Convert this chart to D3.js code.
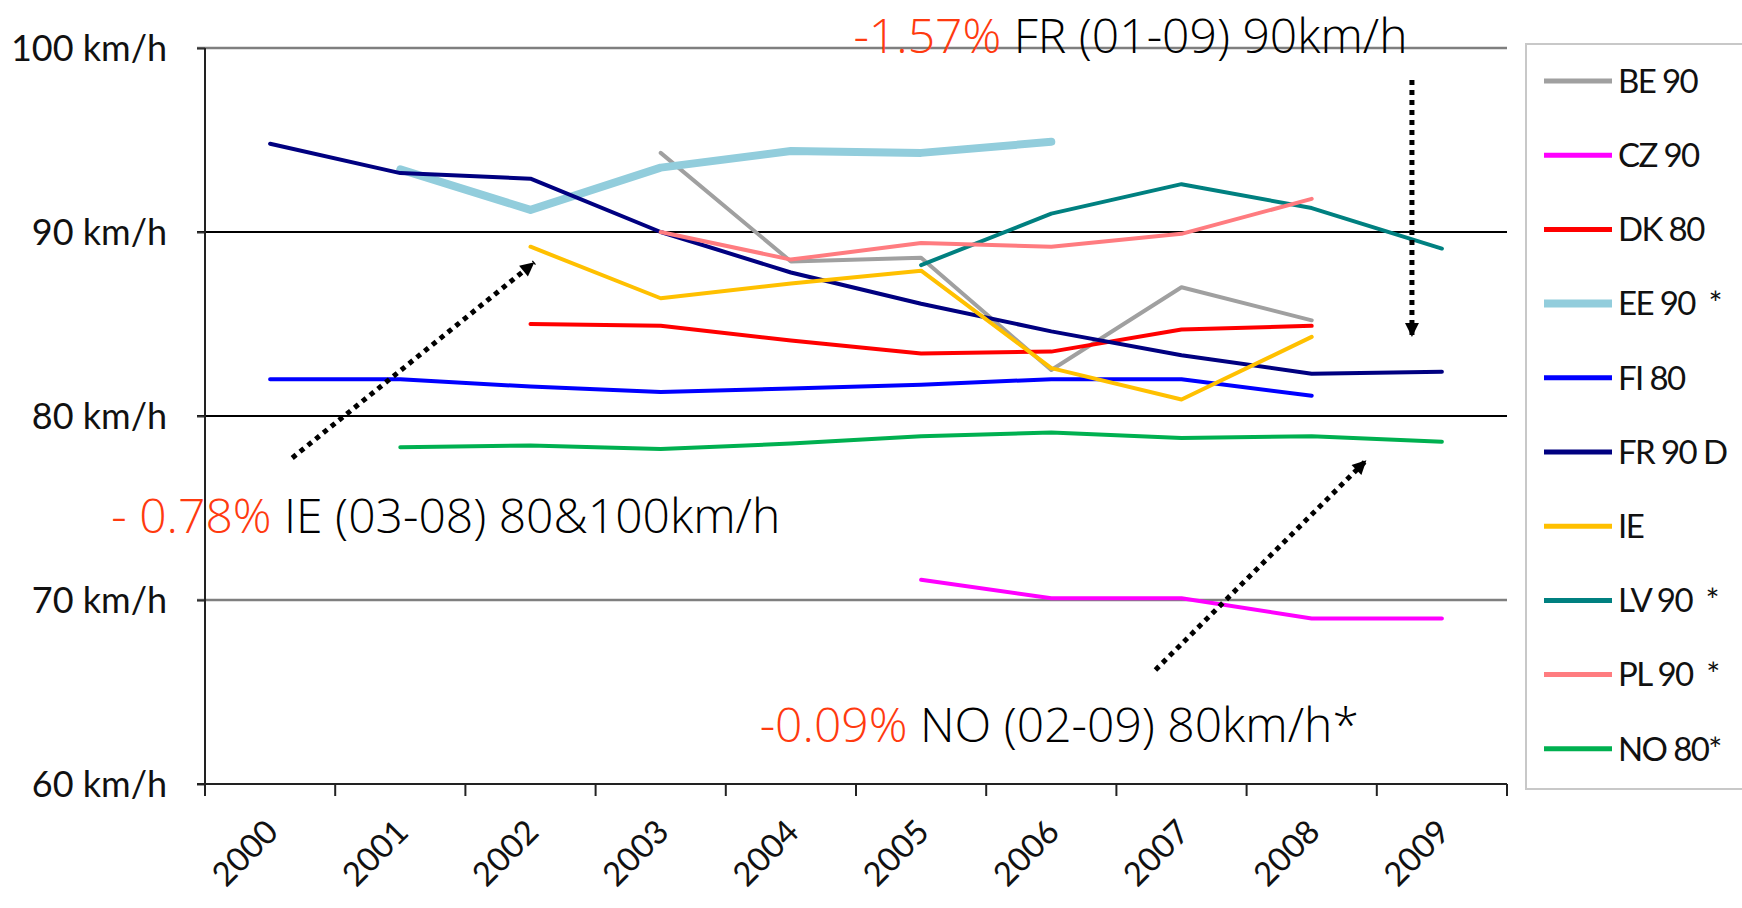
<!DOCTYPE html>
<html>
<head>
<meta charset="utf-8">
<script src="https://cdn.jsdelivr.net/npm/d3@7"></script>
<style>
  body { margin: 0; background: #fff; }
  svg { display: block; }
  .lab { font-family: Lato, "Open Sans", sans-serif; fill: #111; }
  .note { font-family: "Open Sans", Lato, sans-serif; font-weight: 300; }
</style>
</head>
<body>
<script>
// data
var years = [2000, 2001, 2002, 2003, 2004, 2005, 2006, 2007, 2008, 2009];
var yTicks = [60, 70, 80, 90, 100];

var seriesNames = ["BE 90", "CZ 90", "DK 80", "EE 90  *", "FI 80", "FR 90 D", "IE", "LV 90  *", "PL 90  *", "NO 80*"];
var seriesColors = ["#a0a0a0", "#ff00ff", "#ff0000", "#92cddc", "#0000ff", "#000080", "#ffc000", "#008080", "#ff7c80", "#00b050"];

// null = no measurement that year
var BE = [null, null, null, 94.3, 88.4, 88.6, 82.5, 87.0, 85.2, null];
var CZ = [null, null, null, null, null, 71.1, 70.1, 70.1, 69.0, 69.0];
var DK = [null, null, 85.0, 84.9, 84.1, 83.4, 83.5, 84.7, 84.9, null];
var EE = [null, 93.4, 91.2, 93.5, 94.4, 94.3, 94.9, null, null, null];
var FI = [82.0, 82.0, 81.6, 81.3, 81.5, 81.7, 82.0, 82.0, 81.1, null];
var FR = [94.8, 93.2, 92.9, 90.0, 87.8, 86.1, 84.6, 83.3, 82.3, 82.4];
var IE = [null, null, 89.2, 86.4, 87.2, 87.9, 82.6, 80.9, 84.3, null];
var LV = [null, null, null, null, null, 88.2, 91.0, 92.6, 91.3, 89.1];
var PL = [null, null, null, 90.0, 88.5, 89.4, 89.2, 89.9, 91.8, null];
var NO = [null, 78.3, 78.4, 78.2, 78.5, 78.9, 79.1, 78.8, 78.9, 78.6];

var seriesValues = [BE, CZ, DK, EE, FI, FR, IE, LV, PL, NO];

// annotations (text start and arrows in year / km/h units)
var notes = [
    { red: "-1.57%", rest: " FR (01-09) 90km/h", x: 2004.48, y: 99.75 },
    { red: "- 0.78%", rest: " IE (03-08) 80&100km/h", x: 1998.78, y: 73.64 },
    { red: "-0.09%", rest: " NO (02-09) 80km/h*", x: 2003.76, y: 62.28 }
];
var arrows = [
    [[2008.77, 98.26], [2008.77, 84.3]],
    [[2000.17, 77.72], [2002.03, 88.35]],
    [[2006.80, 66.2], [2008.42, 77.6]]
];

var W = 1742, H = 908;
var margin = { top: 48, right: 235, bottom: 124, left: 205 };
var width = W - margin.left - margin.right,
    height = H - margin.top - margin.bottom;

var svg = d3.select("body").append("svg")
    .attr("width", W)
    .attr("height", H);

var g = svg.append("g")
    .attr("transform", "translate(" + margin.left + "," + margin.top + ")");

var x = d3.scaleBand().domain(years).range([0, width]);
var xc = d3.scaleLinear().domain([1999.5, 2009.5]).range([0, width]);
var y = d3.scaleLinear().domain([60, 100]).range([height, 0]);

// gridlines + y axis
var yAxis = d3.axisLeft(y)
    .tickValues(yTicks)
    .tickSize(8)
    .tickPadding(30)
    .tickFormat(function (d) { return d + " km/h"; });

g.selectAll(".grid")
    .data(yTicks.filter(function (d) { return d > 60; }))
    .enter().append("line")
    .attr("x1", -8)
    .attr("x2", width)
    .attr("y1", function (d) { return y(d); })
    .attr("y2", function (d) { return y(d); })
    .attr("stroke", function (d) { return (d == 100 || d == 70) ? "#7f7f7f" : "#000"; })
    .attr("stroke-width", function (d) { return (d == 100 || d == 70) ? 2.6 : 2; });

var ya = g.append("g").call(yAxis);
ya.select(".domain").remove();
ya.selectAll("line").attr("stroke", "#333").attr("stroke-width", 2);
ya.selectAll("text")
    .attr("class", "lab")
    .style("font-size", "36px")
    .attr("dy", "0.35em");

g.append("line")
    .attr("x1", 0).attr("x2", 0)
    .attr("y1", 0).attr("y2", height + 10)
    .attr("stroke", "#222").attr("stroke-width", 2);

// x axis
var tickPos = years.map(function (d) { return x(d); }).concat([width]);
g.append("line")
    .attr("x1", -8).attr("x2", width)
    .attr("y1", height).attr("y2", height)
    .attr("stroke", "#222").attr("stroke-width", 2);
g.selectAll(".xtick")
    .data(tickPos)
    .enter().append("line")
    .attr("x1", function (d) { return d; })
    .attr("x2", function (d) { return d; })
    .attr("y1", height).attr("y2", height + 12)
    .attr("stroke", "#222").attr("stroke-width", 2);

g.selectAll(".xlab")
    .data(years)
    .enter().append("text")
    .attr("class", "lab")
    .style("font-size", "33px")
    .attr("text-anchor", "end")
    .attr("transform", function (d) {
        return "translate(" + (x(d) + x.bandwidth() / 2 + 10) + "," + (height + 50) + ") rotate(-45)";
    })
    .text(function (d) { return d; });

// lines
var line = d3.line()
    .defined(function (d) { return d != null; })
    .x(function (d, i) { return x(years[i]) + x.bandwidth() / 2; })
    .y(function (d) { return y(d); });

g.selectAll(".series")
    .data(seriesValues)
    .enter().append("path")
    .attr("fill", "none")
    .attr("stroke", function (d, i) { return seriesColors[i]; })
    .attr("stroke-width", function (d, i) { return i == 3 ? 8 : 4; })
    .attr("stroke-linejoin", "round")
    .attr("stroke-linecap", "round")
    .attr("d", line);

// arrows
svg.append("defs").append("marker")
    .attr("id", "head")
    .attr("viewBox", "0 0 10 10")
    .attr("refX", 10).attr("refY", 5)
    .attr("markerWidth", 16).attr("markerHeight", 14)
    .attr("markerUnits", "userSpaceOnUse")
    .attr("orient", "auto")
    .append("path")
    .attr("d", "M0,0 L10,5 L0,10 Z")
    .attr("fill", "#000");

g.selectAll(".arrow")
    .data(arrows)
    .enter().append("line")
    .attr("x1", function (d) { return xc(d[0][0]); })
    .attr("y1", function (d) { return y(d[0][1]); })
    .attr("x2", function (d) { return xc(d[1][0]); })
    .attr("y2", function (d) { return y(d[1][1]); })
    .attr("stroke", "#000")
    .attr("stroke-width", 5)
    .attr("stroke-dasharray", "5,5")
    .attr("marker-end", "url(#head)");

// notes
var nt = g.selectAll(".note")
    .data(notes)
    .enter().append("text")
    .attr("class", "note")
    .style("font-size", "48px")
    .attr("x", function (d) { return xc(d.x); })
    .attr("y", function (d) { return y(d.y); });
nt.append("tspan").attr("fill", "#ff3a0f").text(function (d) { return d.red; });
nt.append("tspan").attr("fill", "#000").text(function (d) { return d.rest; });

// legend
var lg = svg.append("g").attr("transform", "translate(1526,44)");
lg.append("rect")
    .attr("width", 240).attr("height", 745)
    .attr("fill", "#fff")
    .attr("stroke", "#c8c8c8").attr("stroke-width", 2);

var item = lg.selectAll(".item")
    .data(seriesNames)
    .enter().append("g")
    .attr("transform", function (d, i) { return "translate(0," + (37 + i * 74.2) + ")"; });
item.append("line")
    .attr("x1", 18).attr("x2", 86)
    .attr("stroke", function (d, i) { return seriesColors[i]; })
    .attr("stroke-width", function (d, i) { return i == 3 ? 8 : 5; });
item.append("text")
    .attr("class", "lab")
    .attr("x", 92)
    .attr("dy", "0.36em")
    .style("font-size", "33px")
    .style("letter-spacing", "-1.6px")
    .style("white-space", "pre")
    .text(function (d) { return d; });
</script>
</body>
</html>
